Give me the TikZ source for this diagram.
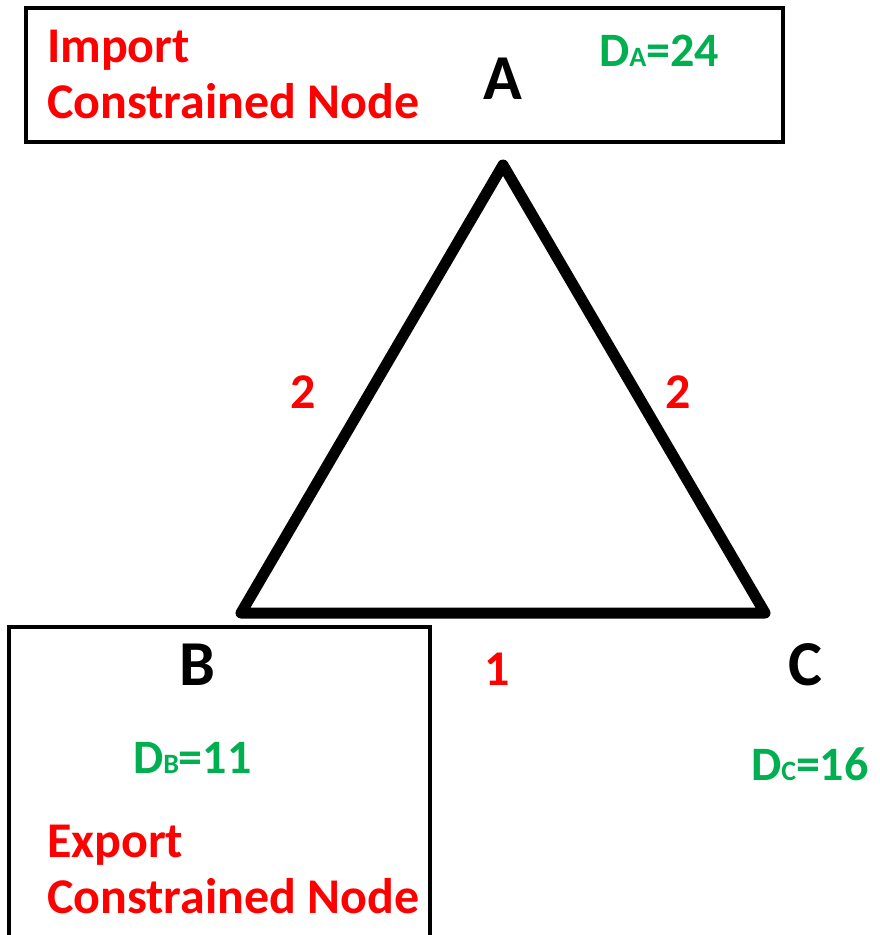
\documentclass[tikz,border=0pt]{standalone}
\usepackage{fontspec}
\setmainfont{Carlito}
\definecolor{offred}{HTML}{FF0000}
\definecolor{offgreen}{HTML}{00B050}
\begin{document}
\begin{tikzpicture}[x=1pt,y=-1pt,
  every node/.style={inner sep=0pt,outer sep=0pt,font=\bfseries},
  redtxt/.style={text=offred,anchor=base west,font=\bfseries\fontsize{50}{50}\selectfont},
  greentxt/.style={text=offgreen,anchor=base west,font=\bfseries\fontsize{48}{48}\selectfont},
  letter/.style={text=black,anchor=base,font=\bfseries\fontsize{64}{64}\selectfont},
  weight/.style={text=offred,anchor=base,font=\bfseries\fontsize{50}{50}\selectfont},
  boxline/.style={draw=black,line width=3.5pt},
  tri/.style={draw=black,line width=11pt,line join=round,line cap=round}]
\useasboundingbox (0,0) rectangle (879,935);
\fill[white] (0,0) rectangle (879,935);
% boxes
\draw[boxline] (26,8) rectangle (783,142);
\draw[boxline] (9,945) -- (9,627) -- (430,627) -- (430,945);
% triangle
\coordinate (tA) at (503,165);
\coordinate (tB) at (241,613);
\coordinate (tC) at (765,613);
\draw[tri] (tA) -- (tB) -- (tC) -- cycle;
% texts top
\node[redtxt] (imp1) at (47,62) {Import};
\node[redtxt] (imp2) at (47,118) {Constrained Node};
\node[letter] (A) at (503,99) {A};
\node[greentxt] (DA) at (599,66) {D{\fontsize{28}{28}\selectfont A}=24};
% weights
\node[weight] (wAB) at (303,408) {2};
\node[weight] (wAC) at (678,408) {2};
\node[weight] (wBC) at (497,685) {1};
% bottom letters
\node[letter] (B) at (197,685) {B};
\node[letter] (C) at (805,685) {C};
\node[greentxt] (DB) at (133,773) {D{\fontsize{28}{28}\selectfont B}=11};
\node[greentxt] (DC) at (751,780) {D{\fontsize{28}{28}\selectfont C}=16};
\node[redtxt] (exp1) at (47,857) {Export};
\node[redtxt] (exp2) at (47,913) {Constrained Node};
\end{tikzpicture}
\end{document}
